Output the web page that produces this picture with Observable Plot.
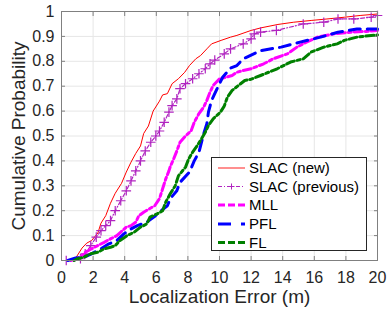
<!DOCTYPE html>
<html>
<head>
<meta charset="utf-8">
<script src="https://cdn.jsdelivr.net/npm/d3@7"></script>
<script src="https://cdn.jsdelivr.net/npm/@observablehq/plot@0.6"></script>
<style>
  html, body { margin: 0; padding: 0; background: #fff; }
  #chart { position: relative; width: 387px; height: 312px; }
  #legend { position: absolute; left: 0; top: 0; pointer-events: none; }
</style>
</head>
<body>
<div id="chart"></div>
<script>
// ---- data ----
const seriesNames = ["SLAC (new)", "SLAC (previous)", "MLL", "PFL", "FL"];

const slacNewX = [0.6, 0.9, 1.3, 1.6, 1.9, 2.3, 2.5, 2.8, 3.1, 3.4, 3.8, 4.1, 4.4, 4.7, 5.0, 5.2, 5.5, 5.8, 6.2, 6.4, 6.7, 7.0, 7.4, 7.8, 8.1, 8.5, 8.8, 9.2, 9.5, 10.1, 10.7, 11.1, 12.0, 12.6, 13.7, 14.7, 15.8, 16.8, 17.9, 18.9, 20];
const slacNewY = [0, 0.01, 0.05, 0.07, 0.08, 0.11, 0.15, 0.18, 0.23, 0.27, 0.31, 0.355, 0.395, 0.43, 0.46, 0.51, 0.54, 0.60, 0.64, 0.665, 0.67, 0.71, 0.73, 0.756, 0.783, 0.81, 0.823, 0.85, 0.87, 0.884, 0.897, 0.904, 0.924, 0.934, 0.948, 0.957, 0.964, 0.97, 0.977, 0.984, 0.99];

const slacPrevX = [0.3, 1.2, 1.5, 1.85, 2.2, 2.5, 2.8, 3.1, 3.4, 3.75, 4.1, 4.4, 4.7, 5.0, 5.3, 5.65, 5.97, 6.2, 6.5, 6.8, 7.0, 7.3, 7.5, 7.85, 8.3, 8.7, 9.1, 9.4, 9.7, 10.3, 10.7, 11.5, 12.0, 12.2, 12.6, 13.6, 15.3, 16.6, 17.5, 18.5, 19.6, 20];
const slacPrevY = [0, 0.007, 0.027, 0.06, 0.094, 0.12, 0.14, 0.16, 0.2, 0.24, 0.28, 0.32, 0.36, 0.40, 0.44, 0.475, 0.50, 0.52, 0.555, 0.596, 0.622, 0.649, 0.69, 0.71, 0.73, 0.75, 0.77, 0.79, 0.805, 0.83, 0.85, 0.87, 0.89, 0.91, 0.917, 0.924, 0.95, 0.957, 0.97, 0.97, 0.977, 0.984];

const mllX = [0.6, 1.2, 1.5, 1.9, 2.3, 2.7, 3.1, 3.5, 3.75, 4.1, 4.4, 4.7, 4.9, 5.2, 5.55, 5.9, 6.2, 6.4, 6.6, 6.8, 6.9, 7.1, 7.3, 7.5, 7.85, 8.2, 8.4, 8.7, 9.0, 9.2, 9.4, 9.6, 10.0, 10.4, 10.8, 11.1, 11.5, 12.0, 12.8, 13.4, 14.3, 14.9, 15.5, 16.2, 17.2, 18.3, 19.3, 20];
const mllY = [0, 0.013, 0.033, 0.047, 0.06, 0.073, 0.087, 0.10, 0.114, 0.134, 0.14, 0.154, 0.18, 0.194, 0.207, 0.22, 0.248, 0.288, 0.328, 0.36, 0.38, 0.408, 0.44, 0.475, 0.50, 0.52, 0.555, 0.59, 0.616, 0.643, 0.676, 0.703, 0.73, 0.736, 0.743, 0.756, 0.763, 0.77, 0.79, 0.81, 0.83, 0.857, 0.877, 0.897, 0.91, 0.917, 0.92, 0.924];

const pflX = [0.4, 0.9, 1.4, 1.9, 2.5, 3.0, 3.5, 3.95, 4.4, 4.8, 5.4, 5.95, 6.3, 6.7, 6.9, 7.3, 7.5, 8.1, 8.4, 8.7, 9.0, 9.2, 9.3, 9.5, 9.7, 10.0, 10.2, 10.7, 11.1, 11.5, 12.6, 13.9, 15.1, 16.4, 17.5, 18.7, 20];
const pflY = [0, 0.01, 0.013, 0.027, 0.047, 0.067, 0.08, 0.107, 0.127, 0.14, 0.154, 0.18, 0.20, 0.22, 0.25, 0.28, 0.314, 0.355, 0.40, 0.435, 0.509, 0.549, 0.596, 0.643, 0.67, 0.71, 0.736, 0.773, 0.783, 0.81, 0.843, 0.857, 0.877, 0.897, 0.917, 0.93, 0.93];

const flX = [0.8, 1.0, 1.4, 1.85, 2.3, 2.7, 3.1, 3.4, 3.7, 4.15, 4.6, 5.0, 5.4, 5.6, 6.05, 6.4, 6.6, 6.9, 7.2, 7.4, 7.85, 8.05, 8.3, 8.6, 8.8, 9.1, 9.3, 9.6, 10.05, 10.3, 10.5, 10.8, 11.2, 11.6, 12.0, 12.6, 13.65, 14.5, 15.3, 15.8, 16.6, 17.45, 17.9, 18.7, 19.6, 20];
const flY = [0, 0.007, 0.013, 0.027, 0.033, 0.047, 0.053, 0.06, 0.08, 0.10, 0.114, 0.134, 0.147, 0.174, 0.187, 0.20, 0.235, 0.27, 0.30, 0.34, 0.375, 0.408, 0.435, 0.462, 0.482, 0.515, 0.542, 0.569, 0.595, 0.62, 0.656, 0.683, 0.703, 0.723, 0.728, 0.743, 0.77, 0.797, 0.81, 0.837, 0.857, 0.87, 0.884, 0.897, 0.904, 0.906];

const xTicks = [0, 2, 4, 6, 8, 10, 12, 14, 16, 18, 20];
const yTicks = [0, 0.1, 0.2, 0.3, 0.4, 0.5, 0.6, 0.7, 0.8, 0.9, 1];
const xLabel = "Localization Error (m)";
const yLabel = "Cumulative Probability";

// ---- build tables ----
const toRows = (xs, ys) => xs.map((x, i) => ({x, y: ys[i]}));
const slacNew = toRows(slacNewX, slacNewY);
const slacPrev = toRows(slacPrevX, slacPrevY);
const mll = toRows(mllX, mllY);
const pfl = toRows(pflX, pflY);
const fl = toRows(flX, flY);

const colors = {
  slacNew: "#ff0000",
  slacPrev: "#b024c0",
  mll: "#ff00ff",
  pfl: "#0000ff",
  fl: "#008000"
};
const dashDot = "8,3,3,3";
const dashed = "11,7";
const font = "'Liberation Sans', Arial, Helvetica, sans-serif";

const plot = Plot.plot({
  width: 387,
  height: 312,
  marginLeft: 61,
  marginRight: 10,
  marginTop: 11,
  marginBottom: 52,
  style: {fontFamily: font, background: "#fff", color: "#262626"},
  x: {domain: [0, 20]},
  y: {domain: [0, 1]},
  marks: [
    Plot.gridX(xTicks, {stroke: "#e6e6e6", strokeOpacity: 1}),
    Plot.gridY(yTicks, {stroke: "#e6e6e6", strokeOpacity: 1}),
    Plot.axisX({ticks: xTicks, tickSize: -4, tickPadding: 15, fontSize: 16, label: null, stroke: "#808080", tickFormat: d => String(d)}),
    Plot.axisX({anchor: "top", ticks: xTicks, tickSize: -4, label: null, stroke: "#808080", tickFormat: () => ""}),
    Plot.axisY({ticks: yTicks, tickSize: -4, tickPadding: 11, fontSize: 16, label: null, stroke: "#808080", tickFormat: d => String(d)}),
    Plot.axisY({anchor: "right", ticks: yTicks, tickSize: -4, label: null, stroke: "#808080", tickFormat: () => ""}),
    Plot.line(slacNew, {x: "x", y: "y", stroke: colors.slacNew, strokeWidth: 1}),
    Plot.line(slacPrev, {x: "x", y: "y", stroke: colors.slacPrev, strokeWidth: 1.2, strokeDasharray: "4,2,1,2"}),
    Plot.dot(slacPrev, {x: "x", y: "y", symbol: "plus", r: 3.2, stroke: colors.slacPrev, strokeWidth: 1.2}),
    Plot.line(mll, {x: "x", y: "y", stroke: colors.mll, strokeWidth: 3, strokeDasharray: dashDot}),
    Plot.line(pfl, {x: "x", y: "y", stroke: colors.pfl, strokeWidth: 3, strokeDasharray: dashed}),
    Plot.line(fl, {x: "x", y: "y", stroke: colors.fl, strokeWidth: 3, strokeDasharray: dashDot}),
    Plot.frame({stroke: "#808080"}),
    Plot.text([xLabel], {frameAnchor: "bottom", textAnchor: "middle", lineAnchor: "middle", dy: 36.5, fontSize: 19, fill: "#262626"}),
    Plot.text([yLabel], {frameAnchor: "left", textAnchor: "middle", lineAnchor: "middle", dx: -43, rotate: -90, fontSize: 19, fill: "#262626"})
  ]
});

const chart = document.getElementById("chart");
chart.appendChild(plot);

// ---- legend overlay (inside the axes, lower right) ----
const lsvg = d3.select(chart).append("svg").attr("id", "legend")
  .attr("width", 387).attr("height", 312);
const lg = lsvg.append("g").attr("font-family", font).attr("font-size", 15)
  .attr("fill", "#000").attr("text-anchor", "start");
lg.append("rect").attr("x", 211.5).attr("y", 157.5).attr("width", 155).attr("height", 93)
  .attr("fill", "#fff").attr("stroke", "#262626").attr("stroke-width", 1);
const items = [
  {name: seriesNames[0], color: "#ff6a6a", width: 1.5, dash: null, marker: false},
  {name: seriesNames[1], color: colors.slacPrev, width: 1, dash: "4,2,1,2", marker: true},
  {name: seriesNames[2], color: colors.mll, width: 3, dash: "7,3", marker: false},
  {name: seriesNames[3], color: colors.pfl, width: 3, dash: "13,10", marker: false},
  {name: seriesNames[4], color: colors.fl, width: 3, dash: "7,3", marker: false}
];
const rowY = [168, 186.5, 205, 224, 242.5];
items.forEach((it, i) => {
  const y = rowY[i];
  const ln = lg.append("line").attr("x1", 218).attr("x2", 245).attr("y1", y).attr("y2", y)
    .attr("stroke", it.color).attr("stroke-width", it.width).attr("fill", "none");
  if (it.dash) ln.attr("stroke-dasharray", it.dash);
  if (it.marker) {
    lg.append("path").attr("d", `M${231.5 - 3},${y}h6M${231.5},${y - 3}v6`)
      .attr("stroke", it.color).attr("stroke-width", 1).attr("fill", "none");
  }
  lg.append("text").attr("x", 249).attr("y", y).attr("dy", "0.35em").text(it.name);
});
</script>
</body>
</html>
